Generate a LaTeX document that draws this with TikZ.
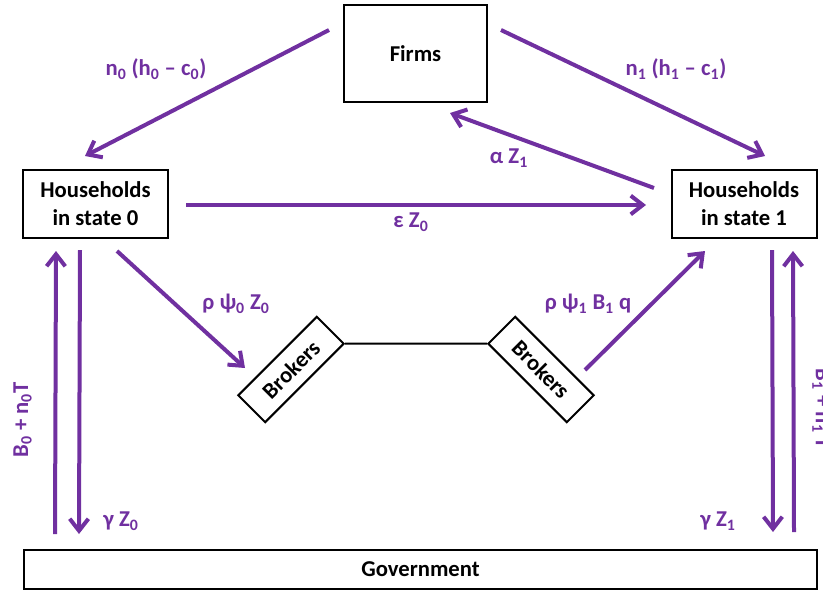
\documentclass[tikz,border=0pt]{standalone}
\usepackage{fontspec}
\setmainfont{Carlito}
\usetikzlibrary{arrows.meta}
\definecolor{flowpurple}{HTML}{7030A0}
\newcommand{\ix}[1]{\textsubscript{#1}}

\begin{document}
\begin{tikzpicture}[x=0.75pt, y=-0.75pt,
		every node/.style={font=\bfseries\fontsize{17}{21}\selectfont},
		box/.style={draw, line width=1.5pt, inner sep=0pt, align=center},
		flow/.style={-{Straight Barb[length=9pt,width=14pt]}, line width=3pt, flowpurple, line join=round},
		lbl/.style={text=flowpurple}]
	\useasboundingbox (0,0) rectangle (823,593);
	\node[box, minimum width=107.25pt, minimum height=72.75pt] (firms) at (415.5,53.5) {Firms};
	\node[box, minimum width=108.75pt, minimum height=51pt] (h0) at (95.5,204) {Households\\in state 0};
	\node[box, minimum width=108.75pt, minimum height=51pt] (h1) at (744,204) {Households\\in state 1};
	\node[box, minimum width=594.75pt, minimum height=29.25pt] (gov) at (420.5,569.5) {Government};
	\node[box, minimum width=83.25pt, minimum height=28.5pt, rotate=45] (bl) at (291,369.5) {Brokers};
	\node[box, minimum width=83.25pt, minimum height=28.5pt, rotate=-45] (br) at (541,369.5) {Brokers};
	\draw[line width=1.5pt] (bl.south east) -- (br.south west);
	% flows between firms and households
	\draw[flow] ([shift={(-14,-23.5)}]firms.west) -- ([shift={(-10.5,-13)}]h0.north);
	\draw[flow] ([shift={(13,-23.5)}]firms.east) -- ([shift={(21,-13)}]h1.north);
	\draw[flow] ([shift={(-16.5,-16)}]h1.west) -- ([shift={(34.5,10)}]firms.south);
	\draw[flow] ([shift={(17,1)}]h0.east) -- ([shift={(-24.5,1)}]h1.west);
	% brokers
	\draw[flow] ([shift={(21.5,12)}]h0.south) -- ([shift={(-46,-1.5)}]bl.center);
	\draw[flow] ([shift={(44,0.5)}]br.center) -- ([shift={(-39,12)}]h1.south);
	% government
	\draw[flow] ([shift={(32,-15)}]gov.north west) -- ([shift={(-39.5,12)}]h0.south);
	\draw[flow] ([shift={(-15.5,11)}]h0.south) -- ([shift={(56,-15)}]gov.north west);
	\draw[flow] ([shift={(28,11)}]h1.south) -- ([shift={(-45,-17)}]gov.north east);
	\draw[flow] ([shift={(-24,-17)}]gov.north east) -- ([shift={(49,12)}]h1.south);
	\node[lbl] (l1) at (156,69) {n\ix{0} (h\ix{0} – c\ix{0})};
	\node[lbl] (l2) at (676,69) {n\ix{1} (h\ix{1} – c\ix{1})};
	\node[lbl] (l3) at (509,158) {α Z\ix{1}};
	\node[lbl] (l4) at (411,222) {ε Z\ix{0}};
	\node[lbl] (l5) at (236,304) {ρ ψ\ix{0} Z\ix{0}};
	\node[lbl] (l6) at (588,304) {ρ ψ\ix{1} B\ix{1} q};
	\node[lbl] (l7) at (121,521) {γ Z\ix{0}};
	\node[lbl] (l8) at (718,521) {γ Z\ix{1}};
	\node[lbl, rotate=90] (l9) at (22.5,420) {B\ix{0} + n\ix{0}T};
	\node[lbl, rotate=-90] (l10) at (821.5,409) {B\ix{1} + n\ix{1} T};
\end{tikzpicture}
\end{document}
